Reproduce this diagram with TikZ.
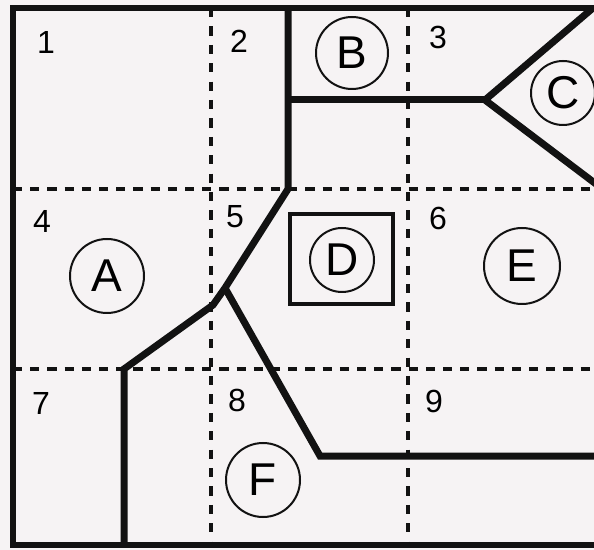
\documentclass[tikz,border=0pt]{standalone}
\usepackage{fontspec}
\setmainfont{Liberation Sans}
\usepackage{tikz}
\usetikzlibrary{positioning}
\definecolor{mypaper}{RGB}{246,243,244}
\definecolor{myink}{RGB}{18,18,18}
\tikzset{
  wall/.style={draw=myink, line width=3.5pt},
  border/.style={draw=myink, line width=3.4pt},
  hgrid/.style={draw=myink, line width=2.4pt, dash pattern=on 4.6pt off 4pt},
  vgrid/.style={draw=myink, line width=2.4pt, dash pattern=on 4.6pt off 4.6pt},
  zone/.style={circle, draw=myink, line width=1pt, minimum size=37pt,
    inner sep=0pt, font=\fontsize{23}{23}\selectfont},
  smallzone/.style={zone, minimum size=32pt},
  cellnum/.style={font=\fontsize{16}{16}\selectfont, inner sep=0pt},
  box/.style={draw=myink, line width=2.2pt}
}
\begin{document}
\begin{tikzpicture}[x=0.5pt, y=-0.5pt]
  \useasboundingbox (0,0) rectangle (594,550);
  \fill[mypaper] (0,0) rectangle (594,550);

  % grid
  \draw[hgrid] (13,189) -- (594,189);
  \draw[hgrid] (13,369) -- (594,369);
  \draw[vgrid] (211,8) -- (211,545);
  \draw[vgrid] (408,8) -- (408,545);

  % walls
  \coordinate (btop) at (288,8);
  \coordinate (bfoot) at (288,189);
  \coordinate (fork) at (225,288);
  \coordinate (kink) at (213,305);
  \coordinate (acorner) at (124,369);
  \coordinate (abottom) at (124,545);
  \coordinate (fcorner) at (320,456);
  \coordinate (fright) at (596,456);
  \coordinate (bmid) at (288,100);
  \coordinate (cfork) at (485,100);
  \coordinate (ctop) at (593,8);
  \coordinate (cbottom) at (596,184);

  \draw[wall] (btop) -- (bfoot) -- (fork) -- (kink) -- (acorner) -- (abottom);
  \draw[wall] (fork) -- (fcorner) -- (fright);
  \draw[wall] (bmid) -- (cfork);
  \draw[wall] (ctop) -- (cfork) -- (cbottom);

  % D box
  \draw[box] (290,214) rectangle (393,304);

  % outline
  \draw[border] (596,8) -- (13,8) -- (13,545) -- (596,545);

  % cell numbers
  \node[cellnum] (n1) at (46,42) {1};
  \node[cellnum] (n2) at (239,41) {2};
  \node[cellnum] (n3) at (438,37) {3};
  \node[cellnum] (n4) at (42,221) {4};
  \node[cellnum] (n5) at (235,217) {5};
  \node[cellnum] (n6) at (438,218) {6};
  \node[cellnum] (n7) at (41,403) {7};
  \node[cellnum] (n8) at (237,400) {8};
  \node[cellnum] (n9) at (434,401) {9};

  % zones
  \node[zone] (za) at (107,276) {A};
  \node[zone, minimum size=36pt] (zb) at (352,53) {B};
  \node[smallzone] (zc) at (563,93) {C};
  \node[smallzone] (zd) at (342,260) {D};
  \node[zone, minimum size=38pt] (ze) at (522,266) {E};
  \node[zone] (zf) at (263,480) {F};
\end{tikzpicture}
\end{document}
